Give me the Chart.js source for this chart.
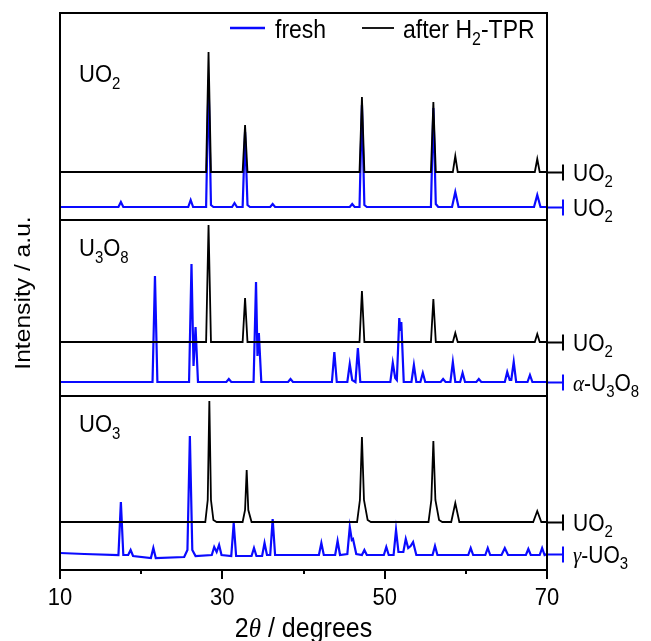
<!DOCTYPE html>
<html>
<head>
<meta charset="utf-8">
<script src="https://cdn.jsdelivr.net/npm/chart.js@4.4.1/dist/chart.umd.min.js"></script>
<style>
html, body { margin: 0; padding: 0; background: #fff; }
#wrap { position: relative; width: 651px; height: 641px; }
#wrap canvas { position: absolute; left: 0; top: 0; }
</style>
</head>
<body>
<div id="wrap">
  <canvas id="c1" width="651" height="641"></canvas>
  <canvas id="c2" width="651" height="641"></canvas>
  <canvas id="c3" width="651" height="641"></canvas>
</div>
<script>
// 2theta (degrees) / intensity (a.u.) pairs
// --- UO2 panel
const uo2After = [[10,48],[28.0,48],[28.3,168],[28.6,48],[32.5,48],[32.8,95],[33.1,48],[46.9,48],[47.2,123],[47.5,48],
  [55.7,48],[56.0,118],[56.3,48],[58.4,48],[58.7,64],[59.0,48],[68.5,48],[68.8,61],[69.1,48],[70,48]];
const uo2Fresh = [[10,13],[17.2,13],[17.5,18],[17.8,13],[25.8,13],[26.1,20],[26.4,13],[28.0,13],[28.3,140],[28.6,15],[28.9,13],
  [31.2,13],[31.5,17],[31.8,13],[32.5,13],[32.8,88],[33.1,15],[33.4,13],[35.9,13],[36.2,16],[36.5,13],[45.7,13],[46.0,16],
  [46.3,13],[46.9,13],[47.2,115],[47.5,15],[47.8,13],[55.7,13],[56.0,112],[56.3,16],[56.6,13],[58.3,13],[58.7,28],[59.1,13],
  [68.4,13],[68.8,25],[69.2,13],[70,13]];

// --- U3O8 panel
const u3o8After = [[10,54],[28.0,54],[28.3,171],[28.6,54],[32.5,54],[32.8,98],[33.1,54],[46.9,54],[47.2,105],[47.5,54],
  [55.7,54],[56.0,97],[56.3,54],[58.4,54],[58.7,63],[59.0,54],[68.5,54],[68.8,62],[69.1,54],[70,54]];
const u3o8Fresh = [[10,14],[21.4,14],[21.7,120],[22.0,14],[25.9,14],[26.2,132],[26.45,30],[26.7,69],[27.0,14],[30.5,14],
  [30.8,17],[31.1,14],[33.85,14],[34.15,114],[34.33,40],[34.5,63],[34.8,14],[38.1,14],[38.4,17],[38.7,14],[43.5,14],
  [43.8,44],[44.1,14],[45.4,14],[45.7,32],[46.0,16],[46.4,14],[46.7,48],[47.0,14],[50.7,14],[51.0,33],[51.3,18],[51.5,16],
  [51.8,78],[51.93,65],[52.05,74],[52.35,14],[53.3,14],[53.6,31],[53.9,14],[54.4,14],[54.7,23],[55.0,14],[56.9,14],
  [57.2,17],[57.5,14],[58.1,14],[58.4,34],[58.7,14],[59.3,14],[59.6,23],[59.9,14],[61.3,14],[61.6,17],[61.9,14],
  [64.8,14],[65.1,24],[65.4,16],[65.6,16],[65.9,34],[66.2,14],[67.6,14],[67.9,21],[68.2,14],[70,14]];

// --- UO3 panel
const uo3After = [[10,48],[27.9,48],[28.2,70],[28.4,169],[28.6,70],[28.9,50],[29.3,48],[32.5,48],[32.8,60],[33.0,100],
  [33.2,60],[33.6,48],[46.6,48],[46.95,70],[47.2,133],[47.45,70],[47.9,50],[48.3,48],[55.4,48],[55.75,70],[56.0,129],
  [56.25,70],[56.7,50],[57.1,48],[58.2,48],[58.7,67],[59.2,48],[68.3,48],[68.8,59],[69.3,48],[70,48]];
const uo3Fresh = [[10,17],[13,16],[17.2,15],[17.5,68],[17.8,15],[18.4,15],[18.7,20],[19.0,14],[21.2,12],[21.5,22],[21.8,12],
  [25.3,13],[25.7,20],[26.0,134],[26.3,20],[26.7,14],[28.7,15],[29.0,23],[29.3,18],[29.6,25],[29.9,15],[31.1,14],[31.4,47],
  [31.7,14],[33.6,14],[33.9,22],[34.2,14],[34.9,14],[35.2,27],[35.5,15],[35.9,15],[36.2,51],[36.5,15],[41.9,15],[42.2,27],
  [42.5,15],[43.9,15],[44.2,29],[44.5,15],[45.4,16],[45.7,43],[45.95,30],[46.1,31],[46.5,16],[47.2,15],[47.5,20],[47.8,15],
  [49.9,15],[50.2,23],[50.5,15],[51.1,15],[51.4,40],[51.7,18],[52.3,18],[52.6,31],[52.9,22],[53.2,24],[53.5,28],[53.9,15],
  [55.9,15],[56.2,24],[56.5,15],[60.3,15],[60.6,22],[60.9,15],[62.4,15],[62.7,22],[63.0,15],[64.4,15],[64.8,22],[65.2,15],
  [67.4,15],[67.7,21],[68.0,15],[69.1,15],[69.4,22],[69.7,15],[70,16]];

const xTicks = [10, 20, 30, 40, 50, 60, 70];
const xTickLabels = [10, 30, 50, 70];

const BLUE = '#0a0aff';
const SANS = '"Liberation Sans", Arial, Helvetica, sans-serif';
const SERIF = '"Liberation Serif", "Times New Roman", serif';
const STRETCH = 1.12;

// parts: [text, style]  style: '' normal, 'sub' subscript, 'it' italic greek
function drawRich(ctx, x, y, parts, size, align) {
  ctx.save();
  ctx.translate(x, y);
  ctx.scale(1, STRETCH);
  ctx.fillStyle = '#000';
  ctx.textBaseline = 'alphabetic';
  ctx.textAlign = 'left';
  function fontOf(st) {
    if (st == 'sub') return Math.round(size * 0.7) + 'px ' + SANS;
    if (st == 'it') return 'italic ' + size + 'px ' + SERIF;
    return size + 'px ' + SANS;
  }
  let total = 0;
  const w = parts.map(p => { ctx.font = fontOf(p[1]); let m = ctx.measureText(p[0]).width; total += m; return m; });
  let cx = align == 'center' ? -total / 2 : 0;
  parts.forEach((p, i) => {
    ctx.font = fontOf(p[1]);
    ctx.fillText(p[0], cx, p[1] == 'sub' ? size * 0.28 : 0);
    cx += w[i];
  });
  ctx.restore();
}

function panelDeco(cfg) {
  return {
    id: 'deco',
    afterDraw(chart) {
      const ctx = chart.ctx, a = chart.chartArea, ys = chart.scales.y, xs = chart.scales.x;
      ctx.save();
      ctx.strokeStyle = '#000';
      ctx.lineWidth = 2;
      ctx.strokeRect(a.left, a.top, a.right - a.left, a.bottom - a.top);

      drawRich(ctx, a.left + 19, cfg.labelY, cfg.label, 22, 'left');

      cfg.marks.forEach(m => {
        const y = Math.round(ys.getPixelForValue(m.value)) + 0.5;
        ctx.strokeStyle = m.color;
        ctx.lineWidth = 2;
        ctx.beginPath();
        ctx.moveTo(a.right + 1, y);
        ctx.lineTo(a.right + 16, y);
        ctx.moveTo(a.right + 16, y - 8);
        ctx.lineTo(a.right + 16, y + 8);
        ctx.stroke();
        drawRich(ctx, a.right + 26, y + 8, m.text, 21, 'left');
      });

      if (cfg.legend) {
        ctx.lineWidth = 2.5;
        ctx.strokeStyle = BLUE;
        ctx.beginPath(); ctx.moveTo(230, 28); ctx.lineTo(265, 28); ctx.stroke();
        ctx.strokeStyle = '#000';
        ctx.lineWidth = 1.8;
        ctx.beginPath(); ctx.moveTo(362, 28); ctx.lineTo(394, 28); ctx.stroke();
        drawRich(ctx, 275, 38, [['fresh', '']], 23, 'left');
        drawRich(ctx, 403, 38, [['after H', ''], ['2', 'sub'], ['-TPR', '']], 23, 'left');
      }

      if (cfg.axis) {
        ctx.strokeStyle = '#000';
        ctx.lineWidth = 2;
        xTicks.forEach(t => {
          const x = Math.round(xs.getPixelForValue(t));
          const len = xTickLabels.includes(t) ? 9 : 4;
          ctx.beginPath(); ctx.moveTo(x, a.bottom); ctx.lineTo(x, a.bottom + len); ctx.stroke();
        });
        xTickLabels.forEach(t => {
          drawRich(ctx, xs.getPixelForValue(t), 605, [[String(t), '']], 22, 'center');
        });
        drawRich(ctx, (a.left + a.right) / 2, 637, [['2', ''], ['\u03b8', 'it'], [' / degrees', '']], 25, 'center');

        // y title, rotated
        ctx.save();
        ctx.translate(30, 293);
        ctx.rotate(-Math.PI / 2);
        ctx.scale(STRETCH, 1);
        ctx.fillStyle = '#000';
        ctx.font = '22px ' + SANS;
        ctx.textAlign = 'center';
        ctx.textBaseline = 'alphabetic';
        ctx.fillText('Intensity / a.u.', 0, 0);
        ctx.restore();
      }
      ctx.restore();
    }
  };
}

function makePanel(id, cfg) {
  const pts = arr => arr.map(p => ({ x: p[0], y: p[1] }));
  return new Chart(document.getElementById(id), {
    type: 'line',
    data: {
      datasets: [
        { label: 'after H2-TPR', data: pts(cfg.after), borderColor: '#000', borderWidth: 1.8, pointRadius: 0, tension: 0, order: 0 },
        { label: 'fresh', data: pts(cfg.fresh), borderColor: BLUE, borderWidth: 2.2, pointRadius: 0, tension: 0, order: 1 }
      ]
    },
    options: {
      responsive: false,
      animation: false,
      events: [],
      layout: { padding: { left: 60, right: 104, top: cfg.top, bottom: cfg.bottom } },
      plugins: { legend: { display: false }, tooltip: { enabled: false } },
      scales: {
        x: { type: 'linear', min: 10, max: 70, display: false },
        y: { min: 0, max: cfg.ymax, display: false }
      }
    },
    plugins: [panelDeco(cfg)]
  });
}

makePanel('c1', {
  after: uo2After, fresh: uo2Fresh, top: 13, bottom: 421, ymax: 207,
  label: [['UO', ''], ['2', 'sub']], labelY: 82, legend: true,
  marks: [
    { value: 48, color: '#000', text: [['UO', ''], ['2', 'sub']] },
    { value: 13, color: BLUE, text: [['UO', ''], ['2', 'sub']] }
  ]
});
makePanel('c2', {
  after: u3o8After, fresh: u3o8Fresh, top: 220, bottom: 245, ymax: 176,
  label: [['U', ''], ['3', 'sub'], ['O', ''], ['8', 'sub']], labelY: 256,
  marks: [
    { value: 54, color: '#000', text: [['UO', ''], ['2', 'sub']] },
    { value: 14, color: BLUE, text: [['\u03b1', 'it'], ['-U', ''], ['3', 'sub'], ['O', ''], ['8', 'sub']] }
  ]
});
makePanel('c3', {
  after: uo3After, fresh: uo3Fresh, top: 396, bottom: 71, ymax: 174,
  label: [['UO', ''], ['3', 'sub']], labelY: 432, axis: true,
  marks: [
    { value: 48, color: '#000', text: [['UO', ''], ['2', 'sub']] },
    { value: 16, color: BLUE, text: [['\u03b3', 'it'], ['-UO', ''], ['3', 'sub']] }
  ]
});
</script>
</body>
</html>
